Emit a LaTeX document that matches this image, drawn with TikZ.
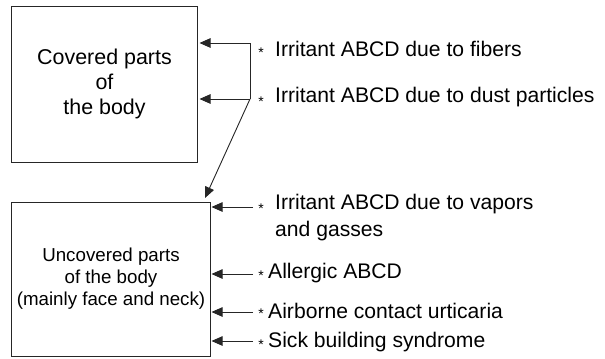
\documentclass[tikz,border=0pt]{standalone}
\usepackage{fontspec}
\setmainfont{Liberation Sans}
\usetikzlibrary{arrows.meta}
\begin{document}
\begin{tikzpicture}[x=1bp,y=-1bp,
  boxnode/.style={draw=black!85, line width=1bp, inner sep=0pt, align=center},
  lbl/.style={anchor=west, inner sep=0pt, align=left, font=\fontsize{21.2}{27}\selectfont},
  starnode/.style={inner sep=0pt, font=\fontsize{14}{14}\selectfont},
  conn/.style={draw=black!85, line width=0.9bp},
  arr/.style={conn, -{Triangle[length=11bp,width=9.5bp]}}
]
\useasboundingbox (0,0) rectangle (605,358);
% boxes
\node[boxnode, minimum width=185bp, minimum height=156bp, font=\fontsize{21.5}{25}\selectfont] (cov) at (104.5,84) {Covered parts\\of\\the body};
\node[boxnode, minimum width=198bp, minimum height=154bp, font=\fontsize{18.8}{22}\selectfont] (unc) at (111,279) {Uncovered parts\\of the body\\(mainly face and neck)};
% upper labels
\node[starnode] (s1) at (261,52.5) {*};
\node[lbl] (l1) at (275,49) {Irritant ABCD due to fibers};
\node[starnode] (s2) at (261,101.5) {*};
\node[lbl] (l2) at (275,97) {Irritant ABCD due to dust particles};
% lower labels
\node[starnode] (s3) at (261,208.5) {*};
\node[lbl, anchor=north west] (l3) at (275,194) {Irritant ABCD due to vapors\\and gasses};
\node[starnode] (s4) at (261,275.5) {*};
\node[lbl] (l4) at (268,273) {Allergic ABCD};
\node[starnode] (s5) at (261,313.5) {*};
\node[lbl] (l5) at (268,311) {Airborne contact urticaria};
\node[starnode] (s6) at (261,344.5) {*};
\node[lbl] (l6) at (268,342) {Sick building syndrome};
% upper connectors
\coordinate (j1) at (250,43);
\coordinate (j2) at (250,99);
\coordinate (t) at (205,198);
\draw[conn] (j1) -- (j2);
\draw[arr, shorten >=2bp] (j1) -- (j1 -| cov.east);
\draw[arr, shorten >=2bp] (j2) -- (j2 -| cov.east);
\draw[arr] (j2) -- (t);
% lower connectors
\coordinate (a1) at (253,207);
\coordinate (a2) at (253,274);
\coordinate (a3) at (253,312);
\coordinate (a4) at (253,341);
\draw[arr, shorten >=1bp] (a1) -- (a1 -| unc.east);
\draw[arr, shorten >=1bp] (a2) -- (a2 -| unc.east);
\draw[arr, shorten >=1bp] (a3) -- (a3 -| unc.east);
\draw[arr, shorten >=1bp] (a4) -- (a4 -| unc.east);
\end{tikzpicture}
\end{document}
